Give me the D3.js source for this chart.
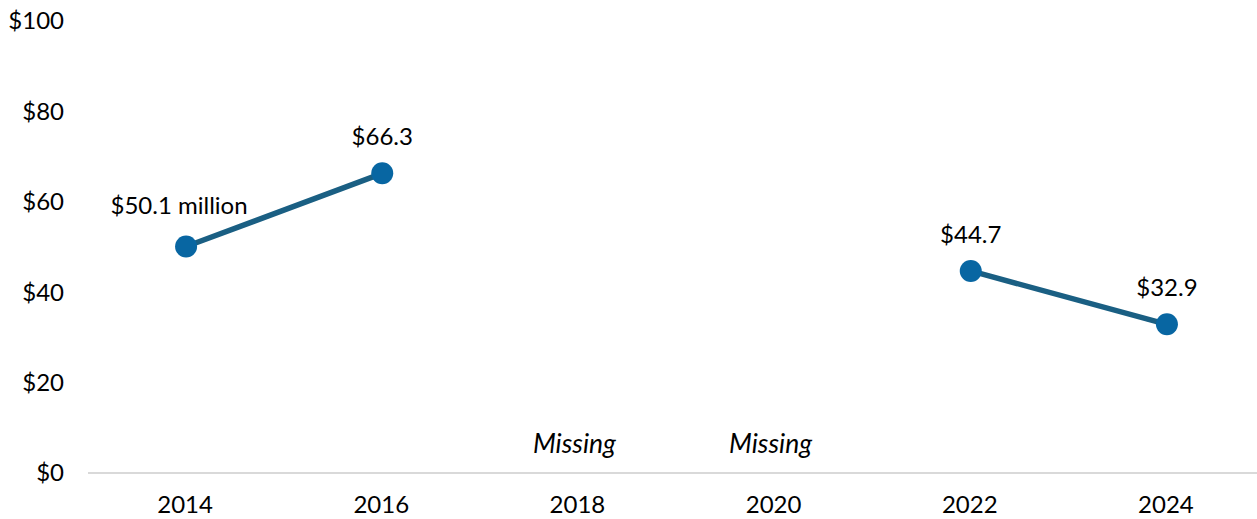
<!DOCTYPE html>
<html>
<head>
<meta charset="utf-8">
<script src="https://cdn.jsdelivr.net/npm/d3@7"></script>
<style>
  body { margin: 0; background: #fff; }
  svg { display: block; font-family: Lato, "Open Sans", sans-serif; }
</style>
</head>
<body>
<svg id="chart" width="1257" height="519"></svg>
<script>
// Data
const years = ['2014', '2016', '2018', '2020', '2022', '2024'];
const values = [50.1, 66.3, null, null, 44.7, 32.9];
const valueLabels = ['$50.1 million', '$66.3', 'Missing', 'Missing', '$44.7', '$32.9'];
const yTicks = [0, 20, 40, 60, 80, 100];

const svg = d3.select('#chart');
const width = 1257;

const x = d3.scaleBand()
  .domain(years)
  .range([88, 1265]);

const y = d3.scaleLinear()
  .domain([0, 100])
  .range([473, 21]);

const cx = d => x(d) + x.bandwidth() / 2;

// baseline
svg.append('line')
  .attr('x1', 88).attr('x2', width)
  .attr('y1', y(0)).attr('y2', y(0))
  .attr('stroke', '#d9d9d9')
  .attr('stroke-width', 2);

// y tick labels
svg.append('g')
  .selectAll('text')
  .data(yTicks)
  .join('text')
  .attr('x', 64)
  .attr('y', d => y(d))
  .attr('dy', '0.35em')
  .attr('text-anchor', 'end')
  .attr('font-size', 24)
  .attr('fill', '#000')
  .text(d => '$' + d);

// x tick labels
svg.append('g')
  .selectAll('text')
  .data(years)
  .join('text')
  .attr('x', d => cx(d) - 1)
  .attr('y', 513)
  .attr('text-anchor', 'middle')
  .attr('font-size', 24)
  .attr('fill', '#000')
  .text(d => d);

const points = years.map((yr, i) => ({ year: yr, value: values[i], label: valueLabels[i] }));

// line with gaps where data is missing
const line = d3.line()
  .defined(d => d.value !== null)
  .x(d => cx(d.year))
  .y(d => y(d.value));

svg.append('path')
  .datum(points)
  .attr('d', line)
  .attr('fill', 'none')
  .attr('stroke', '#1a5f83')
  .attr('stroke-width', 5.5);

const present = points.filter(d => d.value !== null);

svg.append('g')
  .selectAll('circle')
  .data(present)
  .join('circle')
  .attr('cx', d => cx(d.year))
  .attr('cy', d => y(d.value))
  .attr('r', 11)
  .attr('fill', '#0866a2');

// value labels
svg.append('g')
  .selectAll('text')
  .data(present)
  .join('text')
  .attr('x', (d, i) => cx(d.year) + (i === 0 ? -7 : 0))
  .attr('y', (d, i) => y(d.value) - (i === 0 ? 33 : 28))
  .attr('text-anchor', 'middle')
  .attr('font-size', 24)
  .attr('fill', '#000')
  .text(d => d.label);

// missing markers
svg.append('g')
  .selectAll('text')
  .data(points.filter(d => d.value === null))
  .join('text')
  .attr('x', d => cx(d.year) - 4)
  .attr('y', 453)
  .attr('text-anchor', 'middle')
  .attr('font-size', 26.5)
  .attr('font-style', 'italic')
  .attr('fill', '#000')
  .text(d => d.label);
</script>
</body>
</html>
